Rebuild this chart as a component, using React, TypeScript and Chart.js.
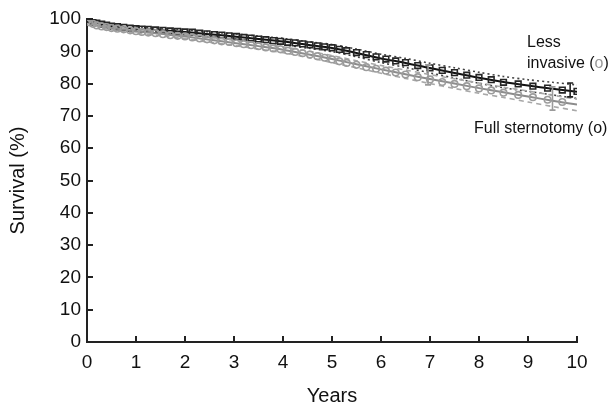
import React, { useEffect, useRef } from "react";
import { Chart, registerables } from "chart.js";
Chart.register(...registerables);

// ---- Data ----
const xTickValues = [0, 1, 2, 3, 4, 5, 6, 7, 8, 9, 10];
const yTickValues = [0, 10, 20, 30, 40, 50, 60, 70, 80, 90, 100];

// Fitted survival curves (years)
const curveYears = [0, 0.1, 0.25, 0.5, 1, 1.5, 2, 2.5, 3, 3.5, 4, 4.5, 5, 5.5, 6, 6.5, 7, 7.5, 8, 8.5, 9, 9.5, 10];
const lessSurv = [100, 99.1, 98.5, 97.8, 97.0, 96.5, 96.0, 95.3, 94.6, 93.8, 93.0, 92.0, 91.0, 89.5, 87.8, 86.4, 84.8, 83.3, 81.8, 80.5, 79.4, 78.4, 77.5];
const lessUpper = [100, 99.4, 98.9, 98.3, 97.6, 97.1, 96.7, 96.0, 95.4, 94.7, 94.0, 93.0, 92.1, 90.7, 89.1, 87.8, 86.3, 84.9, 83.5, 82.2, 81.2, 80.4, 79.6];
const lessLower = [100, 98.8, 98.1, 97.3, 96.4, 95.9, 95.3, 94.6, 93.8, 92.9, 92.0, 91.0, 89.9, 88.3, 86.5, 85.0, 83.3, 81.7, 80.1, 78.7, 77.6, 76.5, 75.4];
const fullSurv = [100, 98.8, 97.8, 97.2, 96.2, 95.4, 94.6, 93.6, 92.6, 91.6, 90.5, 89.1, 87.6, 86.0, 84.4, 82.9, 81.4, 80.0, 78.6, 77.3, 76.0, 74.7, 73.5];
const fullUpper = [100, 99.1, 98.2, 97.7, 96.8, 96.0, 95.3, 94.4, 93.4, 92.5, 91.4, 90.1, 88.7, 87.1, 85.6, 84.2, 82.8, 81.5, 80.2, 78.9, 77.7, 76.4, 75.2];
const fullLower = [100, 98.5, 97.4, 96.7, 95.6, 94.8, 93.9, 92.8, 91.8, 90.7, 89.6, 88.1, 86.5, 84.9, 83.2, 81.6, 80.0, 78.5, 77.0, 75.7, 74.3, 72.9, 71.6];

// Kaplan-Meier markers
const lessMarkYears = [0, 0.05, 0.12, 0.2, 0.3, 0.4, 0.5, 0.62, 0.75, 0.88, 1.0, 1.12, 1.25, 1.4, 1.55, 1.7, 1.85, 2.0, 2.15, 2.3, 2.45, 2.6, 2.75, 2.9, 3.05, 3.2, 3.35, 3.5, 3.65, 3.8, 3.95, 4.1, 4.25, 4.4, 4.55, 4.7, 4.85, 5.0, 5.15, 5.3, 5.5, 5.7, 5.9, 6.1, 6.3, 6.5, 6.75, 7.0, 7.25, 7.5, 7.75, 8.0, 8.25, 8.5, 8.8, 9.1, 9.4, 9.7, 10.0];
const lessMarkSurv = [100, 99.6, 99.0, 98.7, 98.4, 98.1, 97.8, 97.6, 97.4, 97.2, 97.0, 96.9, 96.8, 96.6, 96.5, 96.3, 96.2, 96.0, 95.9, 95.6, 95.4, 95.2, 95.0, 94.8, 94.6, 94.3, 94.1, 93.8, 93.6, 93.3, 93.1, 92.8, 92.6, 92.3, 92.0, 91.7, 91.4, 91.1, 90.6, 90.2, 89.6, 89.0, 88.3, 87.6, 87.0, 86.5, 85.6, 84.9, 84.1, 83.4, 82.6, 81.9, 81.2, 80.4, 79.9, 79.2, 78.6, 78.0, 77.6];
const fullMarkYears = [0, 0.05, 0.12, 0.2, 0.3, 0.4, 0.5, 0.62, 0.75, 0.88, 1.0, 1.12, 1.25, 1.4, 1.55, 1.7, 1.85, 2.0, 2.15, 2.3, 2.45, 2.6, 2.75, 2.9, 3.05, 3.2, 3.35, 3.5, 3.65, 3.8, 3.95, 4.1, 4.25, 4.4, 4.55, 4.7, 4.85, 5.0, 5.15, 5.3, 5.5, 5.7, 5.9, 6.1, 6.3, 6.5, 6.75, 7.0, 7.25, 7.5, 7.75, 8.0, 8.25, 8.5, 8.8, 9.1, 9.4, 9.7];
const fullMarkSurv = [99.5, 99.0, 98.5, 98.0, 97.7, 97.5, 97.2, 97.0, 96.8, 96.5, 96.2, 96.0, 95.8, 95.6, 95.3, 95.0, 94.8, 94.6, 94.3, 94.0, 93.7, 93.4, 93.1, 92.9, 92.5, 92.2, 91.9, 91.6, 91.2, 90.9, 90.6, 90.2, 89.8, 89.4, 89.0, 88.5, 88.0, 87.5, 86.9, 86.4, 85.8, 85.1, 84.6, 84.0, 83.4, 82.8, 82.0, 81.3, 80.5, 79.9, 79.2, 78.5, 77.9, 77.2, 76.5, 75.8, 75.0, 74.3];

// Error bars
const lessErrYears = [9.86];
const lessErrLow = [75.9];
const lessErrHigh = [80.2];
const fullErrYears = [6.96, 9.5];
const fullErrLow = [79.6, 71.8];
const fullErrHigh = [85.8, 79.0];

const FONT = "'Liberation Sans', Arial, Helvetica, sans-serif";

const pts = (xs: number[], ys: number[]) => xs.map((x, i) => ({ x, y: ys[i] }));

const overlayPlugin = {
  id: "overlay",
  afterDatasetsDraw(chart: any) {
    const { ctx, scales } = chart;
    const xs = scales.x;
    const ys = scales.y;
    ctx.save();
    const drawErr = (yrs: number[], lo: number[], hi: number[], color: string) => {
      ctx.strokeStyle = color;
      ctx.lineWidth = 1.6;
      yrs.forEach((yr, i) => {
        const px = xs.getPixelForValue(yr);
        const p1 = ys.getPixelForValue(lo[i]);
        const p2 = ys.getPixelForValue(hi[i]);
        ctx.beginPath();
        ctx.moveTo(px, p1);
        ctx.lineTo(px, p2);
        ctx.moveTo(px - 3, p1);
        ctx.lineTo(px + 3, p1);
        ctx.moveTo(px - 3, p2);
        ctx.lineTo(px + 3, p2);
        ctx.stroke();
      });
    };
    drawErr(fullErrYears, fullErrLow, fullErrHigh, "#9a9a9a");
    drawErr(lessErrYears, lessErrLow, lessErrHigh, "#222");
    ctx.restore();
  },
  afterDraw(chart: any) {
    const { ctx, scales } = chart;
    const xs = scales.x;
    const ys = scales.y;
    ctx.save();
    ctx.strokeStyle = "#222";
    ctx.lineWidth = 2;
    const bottom = ys.getPixelForValue(0);
    const left = xs.getPixelForValue(0);
    xTickValues.forEach((v) => {
      if (v === 0) return;
      const px = Math.round(xs.getPixelForValue(v));
      ctx.beginPath();
      ctx.moveTo(px, bottom);
      ctx.lineTo(px, bottom - 6);
      ctx.stroke();
    });
    yTickValues.forEach((v) => {
      if (v === 0) return;
      const py = Math.round(ys.getPixelForValue(v));
      ctx.beginPath();
      ctx.moveTo(left, py);
      ctx.lineTo(left + 6, py);
      ctx.stroke();
    });
    // annotations
    ctx.font = `16px ${FONT}`;
    ctx.textBaseline = "middle";
    ctx.textAlign = "left";
    ctx.fillStyle = "#111";
    ctx.fillText("Less", 527, 43);
    let x = 527;
    const part1 = "invasive (";
    ctx.fillText(part1, x, 64);
    x += ctx.measureText(part1).width;
    ctx.fillStyle = "#999";
    ctx.fillText("o", x, 64);
    x += ctx.measureText("o").width;
    ctx.fillStyle = "#111";
    ctx.fillText(")", x, 64);
    ctx.fillText("Full sternotomy (o)", 474, 129);
    ctx.restore();
  },
};

export default function App() {
  const canvasRef = useRef<HTMLCanvasElement | null>(null);
  useEffect(() => {
    document.body.style.margin = "0";
    const canvas = canvasRef.current!;
    const chart = new Chart(canvas, {
      type: "line",
      data: {
        datasets: [
          { label: "Full sternotomy KM", data: pts(fullMarkYears, fullMarkSurv), showLine: false, pointStyle: "circle", pointRadius: 3.3, pointBorderWidth: 1.6, borderColor: "#9c9c9c", pointBackgroundColor: "rgba(255,255,255,0)" },
          { label: "Full upper", data: pts(curveYears, fullUpper), borderColor: "#a8a8a8", borderWidth: 1.6, borderDash: [5, 4], pointRadius: 0, tension: 0.3 },
          { label: "Full lower", data: pts(curveYears, fullLower), borderColor: "#a8a8a8", borderWidth: 1.6, borderDash: [5, 4], pointRadius: 0, tension: 0.3 },
          { label: "Full sternotomy", data: pts(curveYears, fullSurv), borderColor: "#8c8c8c", borderWidth: 2, pointRadius: 0, tension: 0.3 },
          { label: "Less invasive KM", data: pts(lessMarkYears, lessMarkSurv), showLine: false, pointStyle: "rect", pointRadius: 4, pointBorderWidth: 1.6, borderColor: "#262626", pointBackgroundColor: "rgba(255,255,255,0)" },
          { label: "Less upper", data: pts(curveYears, lessUpper), borderColor: "#444", borderWidth: 1.6, borderDash: [2, 3], pointRadius: 0, tension: 0.3 },
          { label: "Less lower", data: pts(curveYears, lessLower), borderColor: "#444", borderWidth: 1.6, borderDash: [2, 3], pointRadius: 0, tension: 0.3 },
          { label: "Less invasive", data: pts(curveYears, lessSurv), borderColor: "#111", borderWidth: 2, pointRadius: 0, tension: 0.3 },
        ],
      },
      options: {
        responsive: false,
        animation: false,
        layout: { padding: { left: 0, right: 36, top: 19, bottom: 0 } },
        plugins: { legend: { display: false }, tooltip: { enabled: false } },
        scales: {
          x: {
            type: "linear",
            min: 0,
            max: 10,
            afterBuildTicks: (s: any) => { s.ticks = xTickValues.map((v) => ({ value: v })); },
            afterFit: (s: any) => { s.height = 70; },
            grid: { display: true, drawOnChartArea: false, drawTicks: false },
            border: { display: true, color: "#222", width: 2 },
            ticks: { color: "#111", font: { family: FONT, size: 19 }, padding: 9, maxRotation: 0 },
            title: { display: true, text: "Years", color: "#111", font: { family: FONT, size: 20 }, padding: { top: 0, bottom: 4 } },
          },
          y: {
            type: "linear",
            min: 0,
            max: 100,
            afterBuildTicks: (s: any) => { s.ticks = yTickValues.map((v) => ({ value: v })); },
            afterFit: (s: any) => { s.width = 87; },
            grid: { display: true, drawOnChartArea: false, drawTicks: false },
            border: { display: true, color: "#222", width: 2 },
            ticks: { color: "#111", font: { family: FONT, size: 19 }, padding: 6 },
            title: { display: true, text: "Survival (%)", color: "#111", font: { family: FONT, size: 20 }, padding: { top: 6, bottom: 0 } },
          },
        },
      },
      plugins: [overlayPlugin],
    });
    return () => chart.destroy();
  }, []);
  return (
    <div style={{ position: "absolute", left: 0, top: 0, width: 613, height: 412 }}>
      <canvas ref={canvasRef} width={613} height={412} style={{ width: 613, height: 412, display: "block" }} />
    </div>
  );
}
